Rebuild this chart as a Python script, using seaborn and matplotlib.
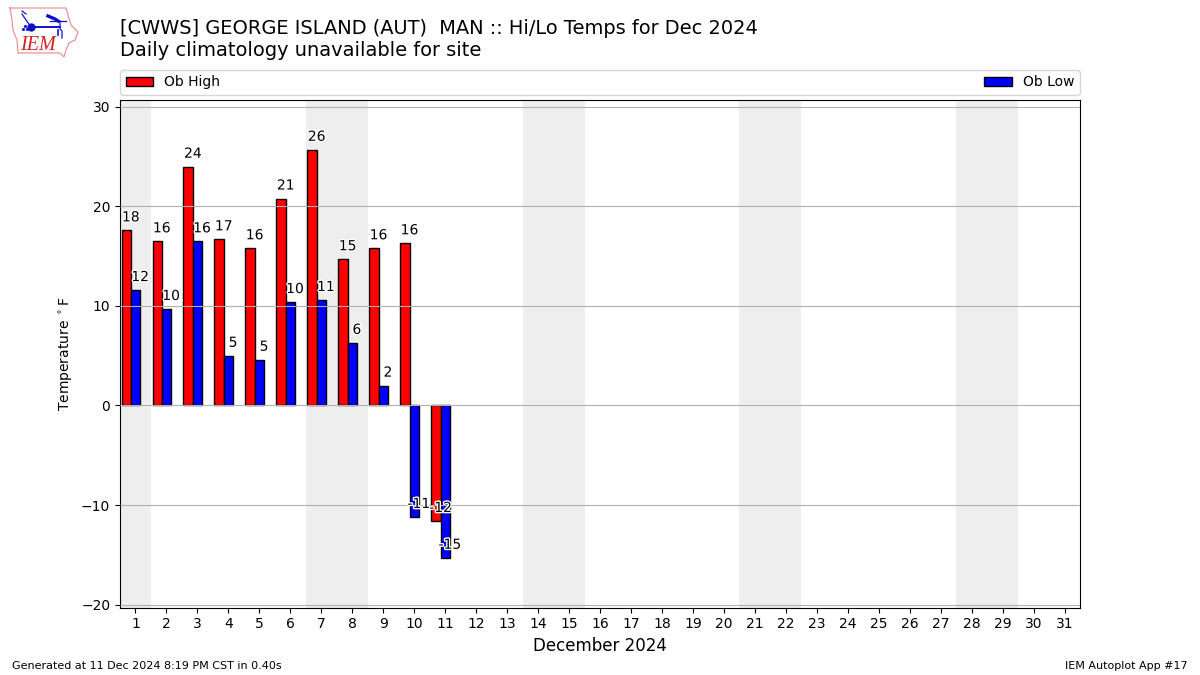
import matplotlib
matplotlib.use("Agg")
import matplotlib.patheffects as pe
import matplotlib.pyplot as plt
import pandas as pd
import seaborn as sns

# values
days = [1, 2, 3, 4, 5, 6, 7, 8, 9, 10, 11]
highs = [17.6, 16.5, 24.0, 16.7, 15.8, 20.8, 25.7, 14.7, 15.8, 16.3, -11.6]
lows = [11.6, 9.7, 16.5, 5.0, 4.6, 10.4, 10.6, 6.3, 2.0, -11.2, -15.3]
high_labels = [18, 16, 24, 17, 16, 21, 26, 15, 16, 16, -12]
low_labels = [12, 10, 16, 5, 5, 10, 11, 6, 2, -11, -15]
weekend_days = [1, 7, 8, 14, 15, 21, 22, 28, 29]
month_days = list(range(1, 32))
y_ticks = [-20, -10, 0, 10, 20, 30]

df = pd.DataFrame({
    "day": days + days,
    "temp": highs + lows,
    "series": ["Ob High"] * len(days) + ["Ob Low"] * len(days),
})
# bars sit slightly left of the day tick
df["pos"] = df["day"] - 0.15

fig = plt.figure(figsize=(12, 6.75), dpi=100)
ax = fig.add_axes([0.1, 67.5 / 675, 0.8, 507.5 / 675])

for d in weekend_days:
    ax.axvspan(d - 0.5, d + 0.5, color="#eeeeee", lw=0, zorder=0)

sns.barplot(
    data=df, x="pos", y="temp", hue="series", ax=ax, native_scale=True,
    palette={"Ob High": "red", "Ob Low": "blue"}, width=0.6, gap=0,
    saturation=1, edgecolor="k", linewidth=1, zorder=1.5,
)

stroke = [pe.withStroke(linewidth=2, foreground="white")]
for d, v, lab in zip(days, highs, high_labels):
    ax.text(d - 0.15, v + 0.6, str(lab), ha="center", va="bottom", fontsize=10,
            path_effects=stroke, zorder=5)
for d, v, lab in zip(days, lows, low_labels):
    ax.text(d + 0.15, v + 0.6, str(lab), ha="center", va="bottom", fontsize=10,
            path_effects=stroke, zorder=5)

ax.set_xlim(0.5, 31.5)
ax.set_ylim(-20.3, 30.7)
ax.set_xticks(month_days)
ax.set_xticklabels([str(d) for d in month_days])
ax.set_yticks(y_ticks)
# grid runs over the bars in the reference
ax.set_axisbelow(False)
ax.grid(axis="y", color="#b0b0b0", lw=0.8)
ax.set_xlabel("December 2024", fontsize=12)
ax.set_ylabel(r"Temperature $^\circ$F")

handles, labels = ax.get_legend_handles_labels()
ax.legend(handles, labels, bbox_to_anchor=(0, 1.01, 1, 0.05), loc="lower left",
          ncol=2, mode="expand", borderaxespad=0, fontsize=10)

fig.text(120 / 1200, 1 - 29 / 675, "[CWWS] GEORGE ISLAND (AUT)  MAN :: Hi/Lo Temps for Dec 2024",
         fontsize=13.98, va="center")
fig.text(120 / 1200, 1 - 50.5 / 675, "Daily climatology unavailable for site", fontsize=13.98, va="center")
fig.text(12 / 1200, 1 - 666 / 675, "Generated at 11 Dec 2024 8:19 PM CST in 0.40s", fontsize=8, va="center")
fig.text(1188 / 1200, 1 - 666 / 675, "IEM Autoplot App #17", fontsize=8, va="center", ha="right")

# rough logo, pixel coordinates
logo = fig.add_axes([0, 1 - 60 / 675, 80 / 1200, 60 / 675])
logo.set_xlim(0, 80)
logo.set_ylim(60, 0)
logo.axis("off")
logo.plot([10, 66, 68, 71, 78, 75, 69, 66, 64, 60, 18, 17, 13, 12, 10],
          [8, 8, 15, 25, 32, 40, 43, 50, 57, 53, 53, 40, 30, 20, 8],
          color="#e58a8a", lw=0.8)
logo.plot([31, 60], [27, 27], color="#1010d0", lw=1.4)
logo.plot([48, 55, 58], [16, 19, 21], color="#1010d0", lw=2.4)
logo.plot([50, 66], [21, 21], color="#1010d0", lw=0.9)
logo.plot([60, 60, 62, 62], [21, 29, 31, 38], color="#1010d0", lw=0.9)
logo.plot([58, 58], [30, 35], color="#1010d0", lw=1.2)
logo.plot([22, 24, 31], [14, 17, 27], color="#1010d0", lw=0.9)
logo.plot([22, 26], [11, 14], color="#1010d0", lw=0.9)
logo.plot([31], [27], "o", color="#1010c0", ms=5)
logo.plot([23, 25, 27], [29, 26, 29], ".", color="#1010d0", ms=2.5)
logo.text(37.5, 46, "IEM", color="#d42020", family="Liberation Serif", style="italic",
          fontsize=14.5, ha="center", va="center")

fig.savefig("out.png", dpi=100)
